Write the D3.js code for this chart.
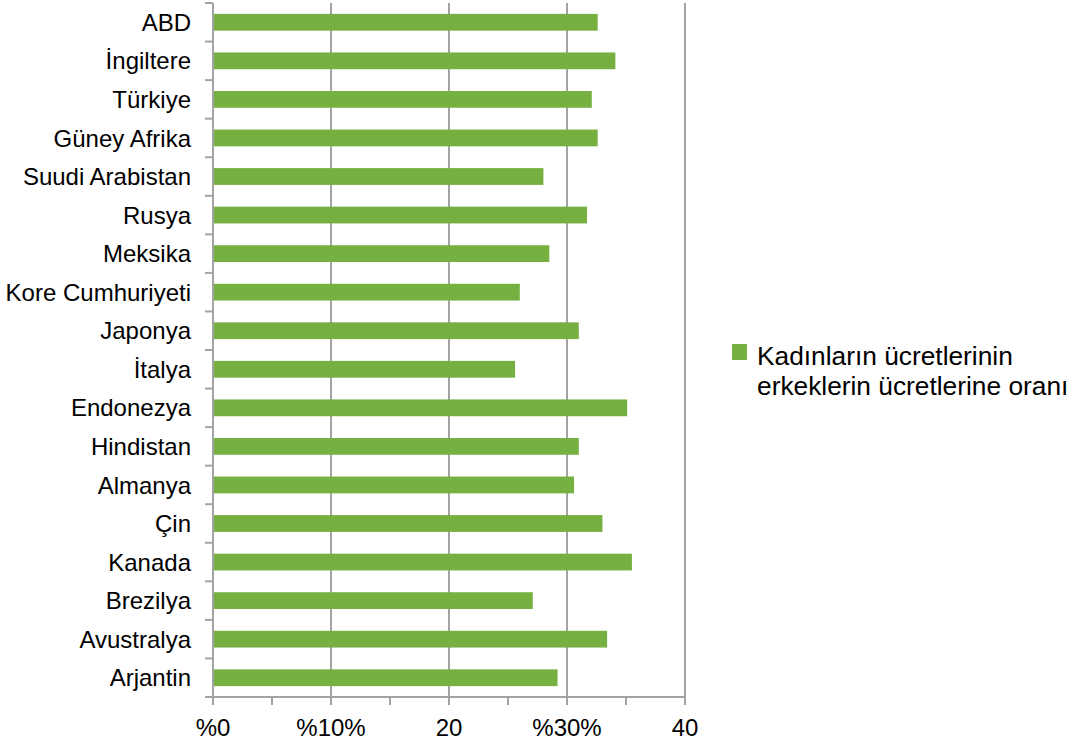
<!DOCTYPE html>
<html>
<head>
<meta charset="utf-8">
<script src="https://cdn.jsdelivr.net/npm/d3@7"></script>
<style>
  html, body { margin: 0; padding: 0; background: #fff; }
  svg { display: block; font-family: "Liberation Sans", Arial, sans-serif; }
</style>
</head>
<body>
<svg id="chart" width="1076" height="744"></svg>
<script>
// Countries, top to bottom
const countries = [
  "ABD", "İngiltere", "Türkiye", "Güney Afrika", "Suudi Arabistan", "Rusya",
  "Meksika", "Kore Cumhuriyeti", "Japonya", "İtalya", "Endonezya", "Hindistan",
  "Almanya", "Çin", "Kanada", "Brezilya", "Avustralya", "Arjantin"
];
// Women's wages as a share of men's wages
const ratios = [
  32.6, 34.1, 32.1, 32.6, 28.0, 31.7,
  28.5, 26.0, 31.0, 25.6, 35.1, 31.0,
  30.6, 33.0, 35.5, 27.1, 33.4, 29.2
];
const tickValues = [0, 10, 20, 30, 40];
const tickLabels = ["%0", "%10%", "20", "%30%", "40"];
const minorTicks = [0, 5, 10, 15, 20, 25, 30, 35, 40];
const seriesName = ["Kadınların ücretlerinin", "erkeklerin ücretlerine oranı"];

const svg = d3.select("#chart");
const barColor = "#76b041";
const axisColor = "#a3a3a3";

const x = d3.scaleLinear().domain([0, 40]).range([213, 685]);
const y = d3.scaleBand().domain(countries).range([3, 697])
  .paddingInner(0.565).paddingOuter(0.2825);

// Vertical gridlines
svg.append("g").selectAll("line")
  .data(tickValues.slice(1))
  .join("line")
  .attr("x1", d => x(d)).attr("x2", d => x(d))
  .attr("y1", 3).attr("y2", 697)
  .attr("stroke", axisColor).attr("stroke-width", 2);

// Bars
svg.append("g").selectAll("rect")
  .data(countries)
  .join("rect")
  .attr("x", x(0))
  .attr("y", d => y(d))
  .attr("width", (d, i) => x(ratios[i]) - x(0))
  .attr("height", y.bandwidth())
  .attr("fill", barColor);

// Value axis: baseline, minor ticks, labels
const xAxis = svg.append("g");
xAxis.append("line")
  .attr("x1", 205).attr("x2", 686)
  .attr("y1", 697).attr("y2", 697)
  .attr("stroke", axisColor).attr("stroke-width", 2);
xAxis.selectAll("line.tick")
  .data(minorTicks)
  .join("line")
  .attr("class", "tick")
  .attr("x1", d => x(d)).attr("x2", d => x(d))
  .attr("y1", 697).attr("y2", 705)
  .attr("stroke", axisColor).attr("stroke-width", 2);
xAxis.selectAll("text")
  .data(tickValues)
  .join("text")
  .attr("x", d => x(d))
  .attr("y", 736)
  .attr("text-anchor", "middle")
  .attr("font-size", 24)
  .attr("fill", "#000")
  .text((d, i) => tickLabels[i]);

// Category axis: line, boundary ticks, labels
const step = y.step();
const boundaries = d3.range(countries.length + 1).map(i => 3 + i * step);
const yAxis = svg.append("g");
yAxis.append("line")
  .attr("x1", x(0)).attr("x2", x(0))
  .attr("y1", 3).attr("y2", 705)
  .attr("stroke", axisColor).attr("stroke-width", 2);
yAxis.selectAll("line.tick")
  .data(boundaries)
  .join("line")
  .attr("class", "tick")
  .attr("x1", 205).attr("x2", x(0))
  .attr("y1", d => d).attr("y2", d => d)
  .attr("stroke", axisColor).attr("stroke-width", 2);
yAxis.selectAll("text")
  .data(countries)
  .join("text")
  .attr("x", 191)
  .attr("y", d => y(d) + y.bandwidth() / 2)
  .attr("dy", "0.36em")
  .attr("text-anchor", "end")
  .attr("font-size", 24)
  .attr("fill", "#000")
  .text(d => d);

// Legend
const legend = svg.append("g");
legend.append("rect")
  .attr("x", 732).attr("y", 344)
  .attr("width", 15).attr("height", 16)
  .attr("fill", barColor);
legend.selectAll("text")
  .data(seriesName)
  .join("text")
  .attr("x", 757)
  .attr("y", (d, i) => 365 + i * 30)
  .attr("font-size", 26.3)
  .attr("fill", "#000")
  .text(d => d);
</script>
</body>
</html>
